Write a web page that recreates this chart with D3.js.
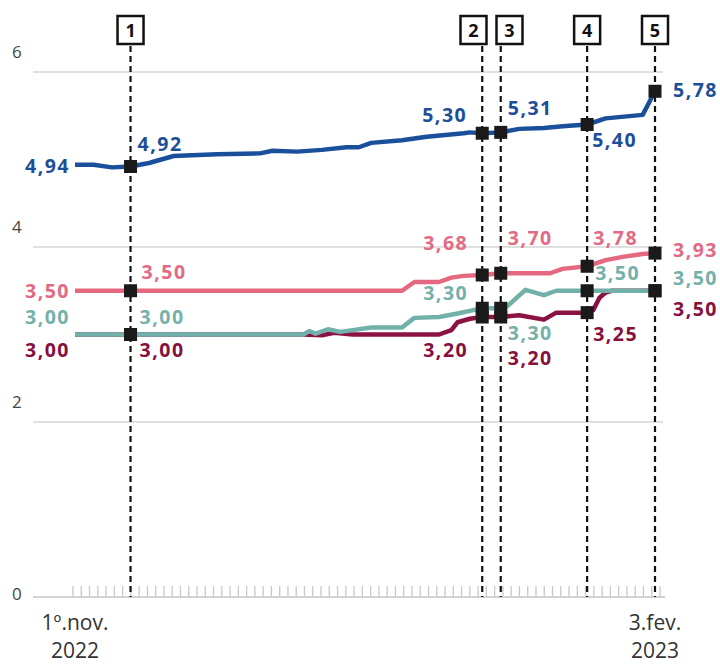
<!DOCTYPE html>
<html>
<head>
<meta charset="utf-8">
<script src="https://cdn.jsdelivr.net/npm/d3@7"></script>
<style>
  body { margin: 0; background: #fff; }
  svg { display: block; font-family: "Open Sans", "Noto Sans", sans-serif; }
</style>
</head>
<body>
<svg id="chart" width="720" height="666"></svg>
<script>
// day offsets counted from 1 Nov 2022, paired with the rate
var blueLine = [[0,4.94],[3,4.94],[6,4.91],[9,4.92],[12,4.96],[16,5.04],[23,5.06],[30,5.07],
  [32,5.10],[36,5.09],[40,5.11],[44,5.14],[46,5.14],[48,5.19],[53,5.22],[57,5.26],[63,5.30],
  [64,5.31],[66,5.30],[69,5.31],[72,5.35],[76,5.36],[79,5.38],[83,5.40],[86,5.47],[89,5.49],
  [92,5.51],[94,5.78]];
var pinkLine = [[0,3.50],[53,3.50],[55,3.60],[59,3.60],[61,3.65],[63,3.67],[66,3.68],[69,3.70],
  [77,3.70],[79,3.75],[83,3.78],[86,3.85],[89,3.89],[92,3.92],[94,3.93]];
var tealLine = [[0,3.00],[37,3.00],[38,3.04],[39,3.01],[41,3.06],[43,3.03],[45,3.05],[48,3.08],
  [53,3.08],[55,3.19],[59,3.20],[62,3.24],[64,3.27],[66,3.30],[69,3.30],[70,3.32],[73,3.51],
  [76,3.45],[78,3.50],[83,3.50],[94,3.50]];
var maroonLine = [[0,3.00],[37,3.00],[40,2.99],[42,3.02],[45,3.00],[59,3.00],[61,3.05],[62,3.14],
  [64,3.18],[66,3.20],[69,3.20],[72,3.22],[76,3.17],[78,3.25],[83,3.25],[84,3.28],[85,3.42],
  [86,3.48],[87,3.50],[94,3.50]];

// numbered events (day offsets) and the values marked on them
var eventDays = [9, 66, 69, 83, 94];
var eventNames = ["1", "2", "3", "4", "5"];
var blueMarks = [4.92, 5.30, 5.31, 5.40, 5.78];
var pinkMarks = [3.50, 3.68, 3.70, 3.78, 3.93];
var tealMarks = [3.00, 3.30, 3.30, 3.50, 3.50];
var maroonMarks = [3.00, 3.20, 3.20, 3.25, 3.50];
var startVals = [4.94, 3.50, 3.00, 3.00];

var yTicks = [0, 2, 4, 6];
var xTickLabels = [["1º.nov.", "2022"], ["3.fev.", "2023"]];

var start = new Date(Date.UTC(2022, 10, 1));
function day(d) { return d3.utcDay.offset(start, d); }
var fmt = function(v) { return d3.format(".2f")(v).replace(".", ","); };

var svg = d3.select("#chart");

var x = d3.scaleUtc()
    .domain([day(0), day(94)])
    .range([75, 655]);
var y = d3.scaleLinear()
    .domain([0, 6])
    .range([597, 72]);

// gridlines + y labels
var grid = svg.append("g");
grid.selectAll("line")
    .data(yTicks)
  .enter().append("line")
    .attr("x1", 33)
    .attr("x2", function(d) { return d == 0 ? 665 : 663; })
    .attr("y1", function(d) { return y(d); })
    .attr("y2", function(d) { return y(d); })
    .attr("stroke", function(d) { return d == 0 ? "#c4c4c4" : "#d6d6d6"; })
    .attr("stroke-width", 1.5);
grid.selectAll("text")
    .data(yTicks)
  .enter().append("text")
    .attr("x", 12)
    .attr("y", function(d) { return d == 0 ? y(d) + 3 : y(d) - 14; })
    .style("font-size", "17px")
    .style("fill", "#444")
    .text(function(d) { return d; });

// small day ticks along the baseline
var tickX = d3.scaleLinear().domain([0, 71]).range([73, 660]);
svg.append("g").selectAll("line")
    .data(d3.range(72))
  .enter().append("line")
    .attr("x1", function(d) { return tickX(d); })
    .attr("x2", function(d) { return tickX(d); })
    .attr("y1", 586)
    .attr("y2", 597)
    .attr("stroke", "#c8c8c8")
    .attr("stroke-width", 1.3);

// x labels, two rows each
var xl = svg.append("g");
[day(0), day(94)].forEach(function(dt, i) {
  [630, 658].forEach(function(ty, row) {
    xl.append("text")
        .attr("x", x(dt))
        .attr("y", ty)
        .attr("text-anchor", "middle")
        .style("font-size", "21px")
        .style("fill", "#333")
        .text(xTickLabels[i][row]);
  });
});

// event dashed lines
svg.append("g").selectAll("line")
    .data(eventDays)
  .enter().append("line")
    .attr("x1", function(d) { return x(day(d)); })
    .attr("x2", function(d) { return x(day(d)); })
    .attr("y1", 46)
    .attr("y2", 597)
    .attr("stroke", "#111")
    .attr("stroke-width", 2.2)
    .attr("stroke-dasharray", "6,4");

// event boxes, pushed apart when too close
var boxX = eventDays.map(function(d) { return x(day(d)); });
for (var i = 1; i < boxX.length; i++) {
  var gap = boxX[i] - boxX[i - 1];
  if (gap < 36) {
    var shift = (36 - gap) / 2;
    boxX[i - 1] -= shift;
    boxX[i] += shift;
  }
}
var boxes = svg.append("g").selectAll("g")
    .data(eventNames)
  .enter().append("g")
    .attr("transform", function(d, i) { return "translate(" + boxX[i] + ",30)"; });
boxes.append("rect")
    .attr("x", -13).attr("y", -14)
    .attr("width", 26).attr("height", 28)
    .attr("fill", "#fff")
    .attr("stroke", "#111")
    .attr("stroke-width", 2.5);
boxes.append("text")
    .attr("text-anchor", "middle")
    .attr("y", 7)
    .style("font-size", "18px")
    .style("font-weight", "bold")
    .style("fill", "#111")
    .text(function(d) { return d; });

// lines
var line = d3.line()
    .x(function(d) { return x(day(d[0])); })
    .y(function(d) { return y(d[1]); });

var series = [
  {data: maroonLine, marks: maroonMarks, color: "#8c1243", text: "#86103e", start: startVals[3]},
  {data: tealLine, marks: tealMarks, color: "#72b0aa", text: "#74b1ab", start: startVals[2]},
  {data: pinkLine, marks: pinkMarks, color: "#e4687f", text: "#e26a84", start: startVals[1]},
  {data: blueLine, marks: blueMarks, color: "#1a4f9c", text: "#1d4f98", start: startVals[0]}
];

svg.append("g").selectAll("path")
    .data(series)
  .enter().append("path")
    .attr("d", function(s) { return line(s.data); })
    .attr("fill", "none")
    .attr("stroke", function(s) { return s.color; })
    .attr("stroke-width", 4.5)
    .attr("stroke-linejoin", "round");

// markers
series.forEach(function(s) {
  svg.append("g").selectAll("rect")
      .data(s.marks)
    .enter().append("rect")
      .attr("x", function(d, i) { return x(day(eventDays[i])) - 6.5; })
      .attr("y", function(d) { return y(d) - 6.5; })
      .attr("width", 13)
      .attr("height", 13)
      .attr("fill", "#1a1a1a");
});

// value labels: [dx, dy, anchor] per series (maroon, teal, pink, blue)
var startPos = [[-5, 22, "end"], [-5, -11, "end"], [-5, 7, "end"], [-5, 8, "end"]];
var eventPos = [
  [[9, 22, "start"], [9, -11, "start"], [11, -12, "start"], [7, -16, "start"]],
  [[-14, 40, "end"], [-14, -8, "end"], [-14, -25, "end"], [-15, -11, "end"]],
  [[7, 48, "start"], [7, 32, "start"], [7, -28, "start"], [7, -17, "start"]],
  [[6, 28, "start"], [8, -11, "start"], [6, -21, "start"], [5, 22, "start"]],
  [[18, 25, "start"], [18, -6, "start"], [18, 4, "start"], [18, 6, "start"]]
];

var labels = svg.append("g")
    .style("font-size", "19.5px")
    .style("font-weight", "bold")
    .style("letter-spacing", "1.5px");

series.forEach(function(s, si) {
  var p = startPos[si];
  labels.append("text")
      .attr("x", x(day(0)) + p[0])
      .attr("y", y(s.start) + p[1])
      .attr("text-anchor", p[2])
      .style("fill", s.text)
      .text(fmt(s.start));
  s.marks.forEach(function(v, ei) {
    var q = eventPos[ei][si];
    labels.append("text")
        .attr("x", x(day(eventDays[ei])) + q[0])
        .attr("y", y(v) + q[1])
        .attr("text-anchor", q[2])
        .style("fill", s.text)
        .text(fmt(v));
  });
});
</script>
</body>
</html>
